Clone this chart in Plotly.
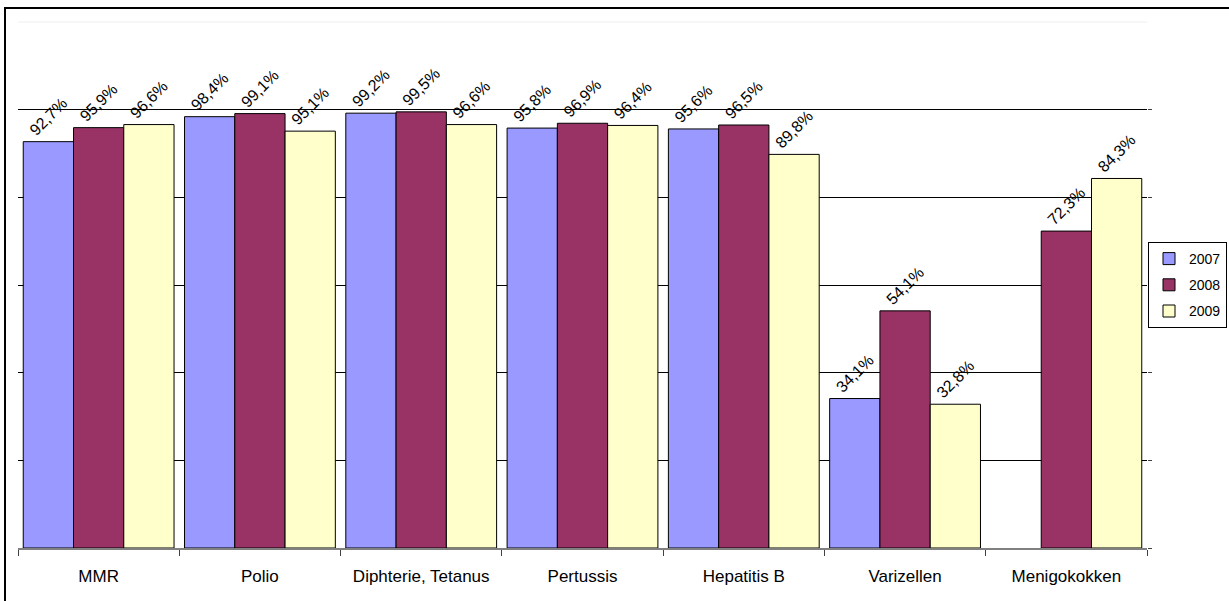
import plotly.graph_objects as go

categories = ["MMR", "Polio", "Diphterie, Tetanus", "Pertussis", "Hepatitis B", "Varizellen", "Menigokokken"]
years = ["2007", "2008", "2009"]
v2007 = [92.7, 98.4, 99.2, 95.8, 95.6, 34.1, None]
v2008 = [95.9, 99.1, 99.5, 96.9, 96.5, 54.1, 72.3]
v2009 = [96.6, 95.1, 96.6, 96.4, 89.8, 32.8, 84.3]
series = [v2007, v2008, v2009]
colors = ["#9999FF", "#993366", "#FFFFCC"]

FONT = "Liberation Sans, Arial, sans-serif"

def fmt(v):
    return "" if v is None else (f"{v:.1f}".replace(".", ",") + "%")

fig = go.Figure()
for name, vals, col in zip(years, series, colors):
    fig.add_trace(go.Bar(
        name=name, x=categories, y=vals, legendgroup=name,
        marker=dict(color=col, line=dict(color="black", width=1)),
        text=[fmt(v) for v in vals], textposition="outside", textangle=-45,
        constraintext="none", cliponaxis=False,
        textfont=dict(family=FONT, size=16, color="black"),
    ))

W, H = 1229, 601
L, R, T, B = 18, 82, 22, 53
pw, ph = W - L - R, H - T - B

def px2x(px):
    return (px - L) / pw

def px2y(py):
    return (H - B - py) / ph

fig.update_layout(
    width=W, height=H,
    margin=dict(l=L, r=R, t=T, b=B, pad=0, autoexpand=False),
    paper_bgcolor="white", plot_bgcolor="white",
    barmode="group", bargap=0.065, bargroupgap=0,
    font=dict(family=FONT, size=16, color="black"),
    showlegend=True,
    legend=dict(
        x=px2x(1227), y=px2y(285), xanchor="right", yanchor="middle",
        bordercolor="black", borderwidth=1, bgcolor="white",
        font=dict(family=FONT, size=14, color="black"),
        itemwidth=30, tracegroupgap=5,
    ),
    xaxis=dict(
        showline=True, linecolor="#808080", linewidth=2,
        ticks="outside", tickson="boundaries", ticklen=6, tickcolor="#404040",
        showgrid=False, ticklabelstandoff=12, automargin=False,
        tickfont=dict(family=FONT, size=17, color="black"),
    ),
    yaxis=dict(
        range=[0, 120], tickvals=[0, 20, 40, 60, 80, 100],
        showticklabels=False, side="right", automargin=False,
        ticks="outside", ticklen=4, tickcolor="#404040",
        showgrid=True, gridcolor="#000000", gridwidth=1,
        zeroline=False, showline=False,
    ),
    shapes=[
        dict(type="line", xref="paper", yref="paper", x0=0, x1=1, y0=1, y1=1,
             line=dict(color="#eeeeee", width=1)),
        dict(type="rect", xref="paper", yref="paper",
             x0=px2x(5), x1=px2x(1234), y0=px2y(8), y1=px2y(605),
             line=dict(color="black", width=2), fillcolor="rgba(0,0,0,0)", layer="above"),
    ],
)

fig.write_html("out.html", config={"displayModeBar": False},
               post_script="document.body.style.margin='0';")
